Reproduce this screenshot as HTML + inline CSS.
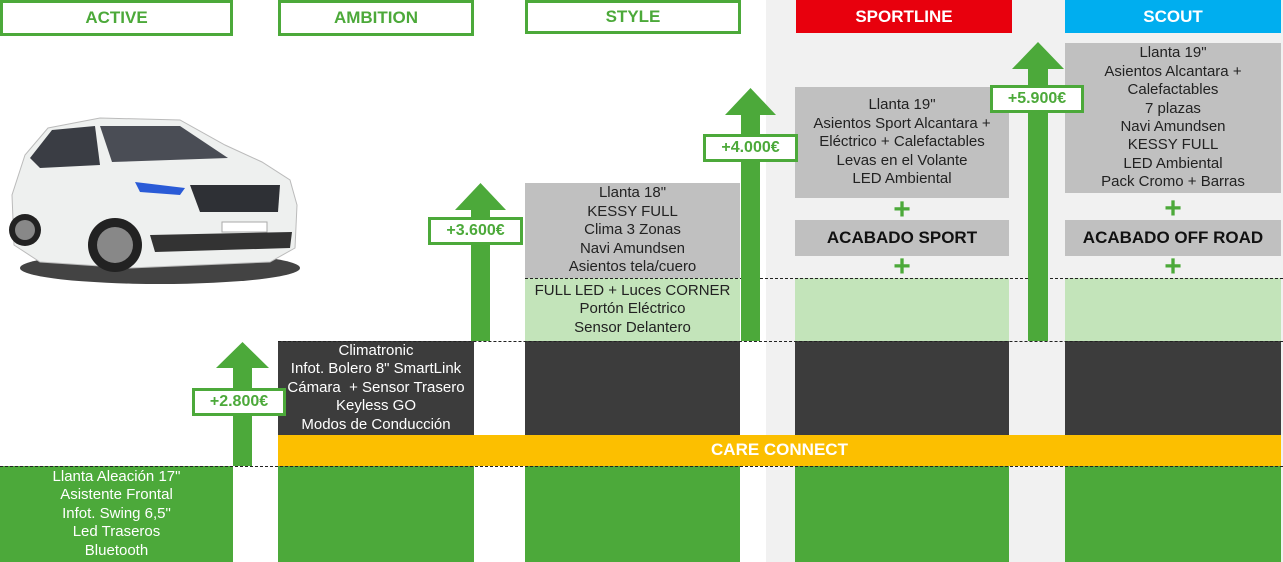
<!DOCTYPE html>
<html><head><meta charset="utf-8"><style>
*{margin:0;padding:0;box-sizing:border-box}
body{width:1283px;height:562px;position:relative;background:#fff;font-family:"Liberation Sans",sans-serif;overflow:hidden}
.a{position:absolute}
.c{display:flex;flex-direction:column;align-items:center;justify-content:center;text-align:center;font-size:15px;line-height:18.4px;white-space:nowrap}
.hdr{position:absolute;display:flex;align-items:center;justify-content:center;font-weight:bold;font-size:17px}
.hw{background:#fff;border:3px solid #4ca93a;color:#4ca93a}
.g{background:#4ca93a}
.gray{background:#c0c0c0;color:#222}
.dk{background:#3c3c3c;color:#fff}
.lg{background:#c3e4ba;color:#222}
.dash{position:absolute;height:0;border-top:1px dashed #222}
.lbl{position:absolute;background:#fff;border:3px solid #4ca93a;color:#4ca93a;font-weight:bold;font-size:16px;display:flex;align-items:center;justify-content:center}
.plus{position:absolute;color:#4ca93a;font-weight:bold;font-size:30px;line-height:20px;width:30px;text-align:center}
.ac{font-weight:bold;font-size:17px;color:#111}
</style></head><body>
<div class="a" style="left:766px;top:0;width:517px;height:562px;background:#f1f1f1"></div>

<div class="hdr hw" style="left:0;top:0;width:233px;height:36px">ACTIVE</div>
<div class="hdr hw" style="left:278px;top:0;width:196px;height:36px">AMBITION</div>
<div class="hdr hw" style="left:525px;top:0;width:216px;height:34px">STYLE</div>
<div class="hdr" style="left:796px;top:0;width:216px;height:33px;background:#e8000d;color:#fff">SPORTLINE</div>
<div class="hdr" style="left:1065px;top:0;width:216px;height:33px;background:#00aeef;color:#fff">SCOUT</div>

<div class="a c g" style="left:0;top:466px;width:233px;height:96px;color:#fff">Llanta Aleación 17"<br>Asistente Frontal<br>Infot. Swing 6,5"<br>Led Traseros<br>Bluetooth</div>
<div class="a g" style="left:278px;top:466px;width:196px;height:96px"></div>
<div class="a g" style="left:525px;top:466px;width:215px;height:96px"></div>
<div class="a g" style="left:795px;top:466px;width:214px;height:96px"></div>
<div class="a g" style="left:1065px;top:466px;width:216px;height:96px"></div>

<div class="a c" style="left:278px;top:435px;width:1003px;height:31px;background:#fcbf00;color:#fff;font-weight:bold;font-size:17px">CARE CONNECT</div>

<div class="a c dk" style="left:278px;top:341px;width:196px;height:94px">Climatronic<br>Infot. Bolero 8" SmartLink<br>Cámara&nbsp; + Sensor Trasero<br>Keyless GO<br>Modos de Conducción</div>
<div class="a dk" style="left:525px;top:341px;width:215px;height:94px"></div>
<div class="a dk" style="left:795px;top:341px;width:214px;height:94px"></div>
<div class="a dk" style="left:1065px;top:341px;width:216px;height:94px"></div>

<div class="a c lg" style="left:525px;top:278px;width:215px;height:63px">FULL LED + Luces CORNER<br>Portón Eléctrico<br>Sensor Delantero</div>
<div class="a lg" style="left:795px;top:278px;width:214px;height:63px"></div>
<div class="a lg" style="left:1065px;top:278px;width:216px;height:63px"></div>

<div class="a c gray" style="left:525px;top:183px;width:215px;height:95px">Llanta 18"<br>KESSY FULL<br>Clima 3 Zonas<br>Navi Amundsen<br>Asientos tela/cuero</div>
<div class="a c gray" style="left:795px;top:87px;width:214px;height:111px">Llanta 19"<br>Asientos Sport Alcantara +<br>Eléctrico + Calefactables<br>Levas en el Volante<br>LED Ambiental</div>
<div class="a c gray ac" style="left:795px;top:220px;width:214px;height:36px">ACABADO SPORT</div>
<div class="a c gray" style="left:1065px;top:43px;width:216px;height:150px">Llanta 19"<br>Asientos Alcantara +<br>Calefactables<br>7 plazas<br>Navi Amundsen<br>KESSY FULL<br>LED Ambiental<br>Pack Cromo + Barras</div>
<div class="a c gray ac" style="left:1065px;top:220px;width:216px;height:36px">ACABADO OFF ROAD</div>
<div class="plus" style="left:887px;top:200px">+</div>
<div class="plus" style="left:887px;top:257px">+</div>
<div class="plus" style="left:1158px;top:199px">+</div>
<div class="plus" style="left:1158px;top:257px">+</div>

<div class="dash" style="left:0;top:466px;width:1283px"></div>
<div class="dash" style="left:278px;top:341px;width:1005px"></div>
<div class="dash" style="left:525px;top:278px;width:758px"></div>

<svg class="a" style="left:0;top:0" width="1283" height="562">
<g fill="#4ca93a">
<rect x="233" y="366" width="19" height="100"/><polygon points="216,368 269,368 242.5,342"/>
<rect x="471" y="208" width="19" height="133"/><polygon points="455,210 506,210 480.5,183"/>
<rect x="741" y="113" width="19" height="228"/><polygon points="725,115 776,115 750.5,88"/>
<rect x="1028" y="67" width="20" height="274"/><polygon points="1012,69 1064,69 1038,42"/>
</g>
<g>
<ellipse cx="160" cy="268" rx="140" ry="16" fill="#222" opacity=".85"/>
<path d="M14,245 L12,195 L25,155 L48,128 L100,118 L180,120 L225,145 L262,162 L290,180 L297,205 L295,248 L270,262 L130,268 L40,262 Z" fill="#eef0ef" stroke="#bbb"/>
<path d="M30,158 L52,130 L95,126 L100,165 L40,168 Z" fill="#3a3d44"/>
<path d="M100,126 L180,126 L228,158 L112,162 Z" fill="#4a4d55"/>
<path d="M190,185 L280,185 L278,212 L200,212 Z" fill="#2e3035"/>
<path d="M150,235 L292,232 L290,248 L155,252 Z" fill="#333"/>
<rect x="222" y="222" width="45" height="10" fill="#fff" stroke="#aaa"/>
<circle cx="115" cy="245" r="27" fill="#222"/><circle cx="115" cy="245" r="18" fill="#888"/>
<circle cx="25" cy="230" r="16" fill="#222"/><circle cx="25" cy="230" r="10" fill="#888"/>
<path d="M135,182 L185,188 L180,195 L140,192 Z" fill="#2a5bd7"/>
</g>
</svg>
<div class="lbl" style="left:192px;top:388px;width:94px;height:28px">+2.800€</div>
<div class="lbl" style="left:428px;top:217px;width:95px;height:28px">+3.600€</div>
<div class="lbl" style="left:703px;top:134px;width:95px;height:28px">+4.000€</div>
<div class="lbl" style="left:990px;top:85px;width:94px;height:28px">+5.900€</div>
</body></html>
